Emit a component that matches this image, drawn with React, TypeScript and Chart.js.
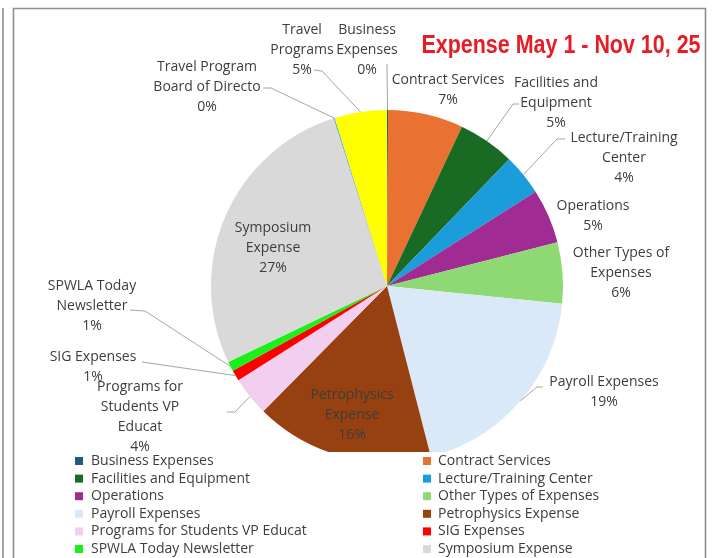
import React, { useEffect, useRef } from "react";
import { Chart, registerables } from "chart.js";

Chart.register(...registerables);

const chartTitle = "Expense May 1 - Nov 10, 25";

const categories = [
  "Business Expenses",
  "Contract Services",
  "Facilities and Equipment",
  "Lecture/Training Center",
  "Operations",
  "Other Types of Expenses",
  "Payroll Expenses",
  "Petrophysics Expense",
  "Programs for Students VP Educat",
  "SIG Expenses",
  "SPWLA Today Newsletter",
  "Symposium Expense",
  "Travel Program Board of Directo",
  "Travel Programs",
];

const values = [0.1, 6.9, 5.2, 3.8, 5.0, 5.6, 19.4, 16.4, 3.6, 1.0, 0.9, 27.2, 0.1, 4.8];

const sliceColors = [
  "#1F5C7A",
  "#E97132",
  "#196B24",
  "#1B9DDB",
  "#A02B93",
  "#8ED973",
  "#DAE9F8",
  "#974110",
  "#F2CEEF",
  "#FF0000",
  "#1AF01A",
  "#D9D9D9",
  "#4AA3DA",
  "#FFFF00",
];

// wrapped label text (as shown beside each slice)
const labelLines = [
  ["Business", "Expenses"],
  ["Contract Services"],
  ["Facilities and", "Equipment"],
  ["Lecture/Training", "Center"],
  ["Operations"],
  ["Other Types of", "Expenses"],
  ["Payroll Expenses"],
  ["Petrophysics", "Expense"],
  ["Programs for", "Students VP", "Educat"],
  ["SIG Expenses"],
  ["SPWLA Today", "Newsletter"],
  ["Symposium", "Expense"],
  ["Travel Program", "Board of Directo"],
  ["Travel", "Programs"],
];

// label placement relative to pie centre (px): text centre x, first line y, leader elbow points
const labelLayout: { dx: number; dy: number; leader: number[][] }[] = [
  { dx: -20, dy: -256, leader: [[0, -222]] },
  { dx: 61, dy: -206, leader: [] },
  { dx: 169, dy: -203, leader: [[132, -182], [126, -182]] },
  { dx: 237, dy: -148, leader: [[178, -147], [170, -147]] },
  { dx: 206, dy: -80, leader: [] },
  { dx: 234, dy: -33, leader: [] },
  { dx: 217, dy: 96, leader: [[156, 101], [150, 101]] },
  { dx: -35, dy: 109, leader: [] },
  { dx: -247, dy: 101, leader: [[-160, 126], [-152, 126]] },
  { dx: -294, dy: 71, leader: [[-245, 76]] },
  { dx: -295, dy: 0, leader: [[-257, 24], [-242, 25]] },
  { dx: -114, dy: -58, leader: [] },
  { dx: -180, dy: -219, leader: [[-124, -198], [-116, -198]] },
  { dx: -85, dy: -256, leader: [[-73, -216], [-65, -215]] },
];

const LABEL_FONT = '14px "Open Sans", sans-serif';
const TEXT_COLOR = "#3d3d3d";
const LINE_H = 20;
const CLIP_Y = 452;

const overlayPlugin = {
  id: "overlay",
  beforeDraw(chart: any) {
    const { ctx, width, height } = chart;
    ctx.save();
    ctx.fillStyle = "#ffffff";
    ctx.fillRect(0, 0, width, height);
    ctx.strokeStyle = "#8f8f8f";
    ctx.lineWidth = 1.6;
    ctx.beginPath();
    ctx.moveTo(3, 8);
    ctx.lineTo(3, height);
    ctx.moveTo(13.5, height);
    ctx.lineTo(13.5, 8.5);
    ctx.lineTo(705.5, 8.5);
    ctx.lineTo(705.5, height);
    ctx.stroke();
    ctx.restore();
  },
  beforeDatasetsDraw(chart: any) {
    const { ctx, width } = chart;
    ctx.save();
    ctx.beginPath();
    ctx.rect(0, 0, width, CLIP_Y);
    ctx.clip();
  },
  afterDatasetsDraw(chart: any) {
    const { ctx } = chart;
    ctx.restore();
    const meta = chart.getDatasetMeta(0);
    const data = chart.data.datasets[0].data as number[];
    const total = data.reduce((a, b) => a + b, 0);
    ctx.save();
    // leaders
    ctx.strokeStyle = "#a6a6a6";
    ctx.lineWidth = 1;
    meta.data.forEach((arc: any, i: number) => {
      const p = arc.getProps(["x", "y", "startAngle", "endAngle", "outerRadius"], true);
      const lay = labelLayout[i];
      if (!lay.leader.length) return;
      const mid = (p.startAngle + p.endAngle) / 2;
      const ex = p.x + p.outerRadius * Math.cos(mid);
      const ey = p.y + p.outerRadius * Math.sin(mid);
      ctx.beginPath();
      lay.leader.forEach((pt, k) => {
        if (k === 0) ctx.moveTo(p.x + pt[0], p.y + pt[1]);
        else ctx.lineTo(p.x + pt[0], p.y + pt[1]);
      });
      ctx.lineTo(ex, ey);
      ctx.stroke();
    });
    // labels
    ctx.font = LABEL_FONT;
    ctx.fillStyle = TEXT_COLOR;
    ctx.textAlign = "center";
    ctx.textBaseline = "middle";
    meta.data.forEach((arc: any, i: number) => {
      const p = arc.getProps(["x", "y"], true);
      const lay = labelLayout[i];
      const pct = Math.round((data[i] / total) * 100) + "%";
      const lines = [...labelLines[i], pct];
      lines.forEach((t, k) => {
        ctx.fillText(t, p.x + lay.dx, p.y + lay.dy + k * LINE_H);
      });
    });
    // legend (two columns, row-major)
    const labels = chart.data.labels as string[];
    const bg = chart.data.datasets[0].backgroundColor as string[];
    ctx.textAlign = "left";
    const colSquareX = [75, 423];
    const colTextX = [91, 438];
    labels.forEach((lab, i) => {
      const row = Math.floor(i / 2);
      const col = i % 2;
      const y = 461 + row * 17.6;
      if (y > 560) return;
      ctx.fillStyle = bg[i];
      ctx.fillRect(colSquareX[col], y - 4, 8, 8);
      ctx.fillStyle = TEXT_COLOR;
      ctx.fillText(lab, colTextX[col], y);
    });
    // title (condensed bold, fitted to its width)
    ctx.font = 'bold 25px "Liberation Sans", "Open Sans", sans-serif';
    ctx.fillStyle = "#E81C24";
    ctx.textAlign = "center";
    const tw = ctx.measureText(chartTitle).width;
    const targetW = 279;
    ctx.translate(561, 46);
    ctx.scale(targetW / tw, 1);
    ctx.fillText(chartTitle, 0, 0);
    ctx.restore();
  },
};

export default function App() {
  const ref = useRef<HTMLCanvasElement | null>(null);
  useEffect(() => {
    document.body.style.margin = "0";
    if (!ref.current) return;
    const chart = new Chart(ref.current, {
      type: "pie",
      data: {
        labels: categories,
        datasets: [
          {
            data: values,
            backgroundColor: sliceColors,
            borderWidth: 0,
            hoverOffset: 0,
          },
        ],
      },
      options: {
        responsive: false,
        animation: false,
        radius: 176,
        layout: { padding: { left: 211, right: 150, top: 110, bottom: 96 } },
        plugins: {
          legend: { display: false },
          tooltip: { enabled: false },
          title: { display: false },
        },
      } as any,
      plugins: [overlayPlugin],
    });
    return () => chart.destroy();
  }, []);
  return <canvas ref={ref} width={713} height={558} style={{ display: "block" }} />;
}
